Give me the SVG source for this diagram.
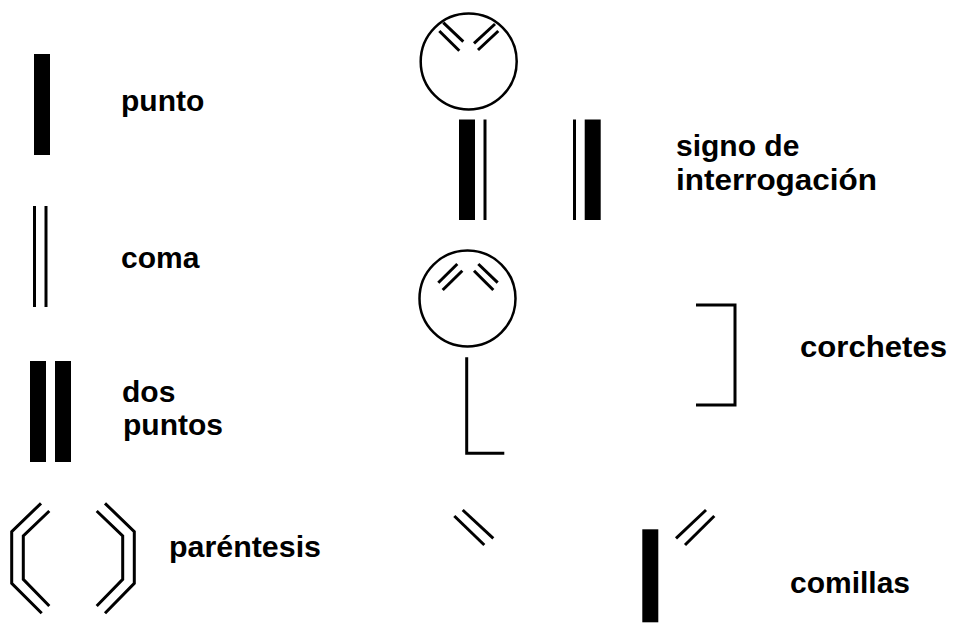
<svg xmlns="http://www.w3.org/2000/svg" width="953" height="626" viewBox="0 0 953 626">
<style>
text{font-family:"Liberation Sans",Arial,sans-serif;font-weight:bold;font-size:30px;fill:#000}
.s{fill:none;stroke:#000;stroke-width:3}
.c{fill:none;stroke:#000;stroke-width:2.5}
.b{fill:#000}
</style>
<rect width="953" height="626" fill="#fff"/>
<g id="punto">
<rect class="b" x="34" y="54" width="16" height="101"/>
<text x="121" y="111">punto</text>
</g>
<g id="coma">
<line class="s" x1="34.5" y1="206" x2="34.5" y2="307"/>
<line class="s" x1="46" y1="206" x2="46" y2="307"/>
<text x="121" y="268">coma</text>
</g>
<g id="dos-puntos">
<rect class="b" x="30" y="361" width="16" height="101"/>
<rect class="b" x="55" y="361" width="16" height="101"/>
<text x="122" y="402">dos</text>
<text x="123" y="435">puntos</text>
</g>
<g id="parentesis">
<polyline class="s" points="41,503.3 11.7,531.7 11.7,583.3 41.7,613.3"/>
<polyline class="s" points="49.3,511 23.3,536 23.3,579.3 49.3,606"/>
<polyline class="s" points="105,503.3 134.3,531.7 134.3,583.3 105,613.3"/>
<polyline class="s" points="96.7,511 122.7,536 122.7,579.3 96.7,606"/>
<text x="169" y="557" textLength="152" lengthAdjust="spacingAndGlyphs">paréntesis</text>
</g>
<g id="signo-interrogacion">
<circle class="c" cx="468.7" cy="61.5" r="48"/>
<line class="s" x1="439.3" y1="31" x2="459.3" y2="50.7"/>
<line class="s" x1="443.3" y1="22.7" x2="463.3" y2="41.7"/>
<line class="s" x1="474" y1="43.3" x2="495" y2="24"/>
<line class="s" x1="478" y1="50" x2="498.3" y2="31"/>
<rect class="b" x="459" y="119.5" width="16" height="100.5"/>
<line class="s" x1="485" y1="119.5" x2="485" y2="220"/>
<line class="s" x1="574.5" y1="119.5" x2="574.5" y2="220"/>
<rect class="b" x="584.7" y="119.5" width="16" height="100.5"/>
<text x="676" y="156">signo de</text>
<text x="676" y="190" textLength="201" lengthAdjust="spacingAndGlyphs">interrogación</text>
</g>
<g id="corchetes">
<circle class="c" cx="467.5" cy="298.5" r="48"/>
<line class="s" x1="438.3" y1="282.7" x2="457.3" y2="264"/>
<line class="s" x1="442.7" y1="290" x2="462.3" y2="270.7"/>
<line class="s" x1="478.3" y1="264" x2="497.7" y2="282.7"/>
<line class="s" x1="474" y1="270.7" x2="493.3" y2="290"/>
<polyline class="s" points="466.7,357.3 466.7,453.3 504.3,453.3"/>
<polyline class="s" points="696,305 735,305 735,405 696,405"/>
<text x="800" y="357" textLength="147" lengthAdjust="spacingAndGlyphs">corchetes</text>
</g>
<g id="comillas">
<line class="s" x1="454.3" y1="516" x2="484.3" y2="545"/>
<line class="s" x1="462.7" y1="510" x2="493.3" y2="538.3"/>
<rect class="b" x="642.3" y="529.3" width="16" height="93"/>
<line class="s" x1="676" y1="538.3" x2="706" y2="510"/>
<line class="s" x1="685" y1="545" x2="714.3" y2="516"/>
<text x="790" y="593">comillas</text>
</g>
</svg>
